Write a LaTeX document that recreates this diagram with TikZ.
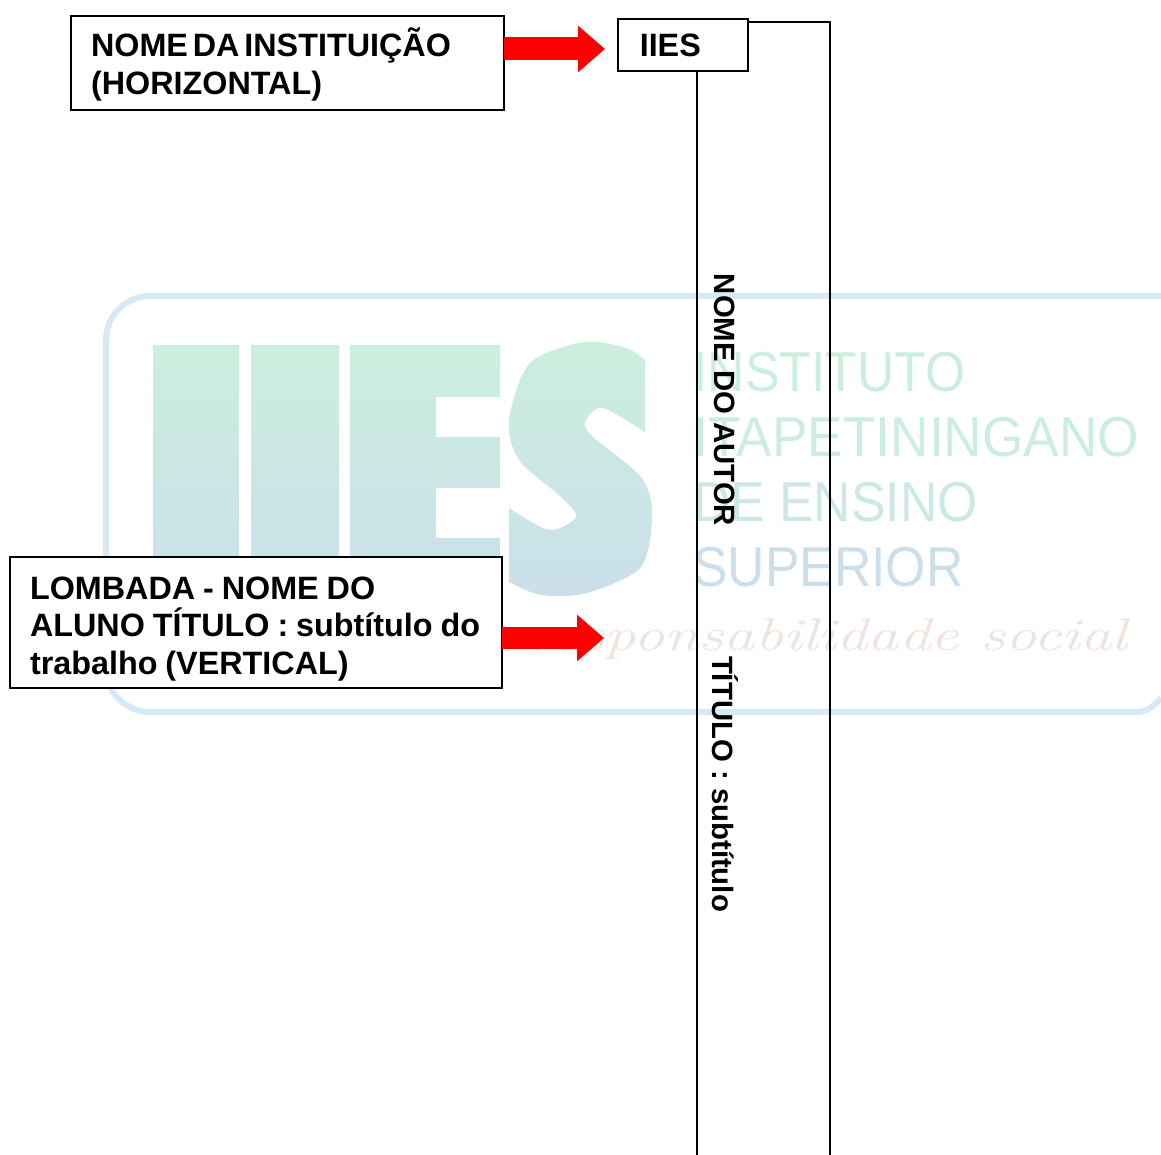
\documentclass[tikz,border=0pt]{standalone}
\usepackage{fontspec}
\usepackage{xcolor}
\usepackage{tikz}
\usetikzlibrary{calc,arrows.meta}
\newfontfamily\arialfont{Liberation Sans}
\definecolor{wmline}{HTML}{D5EAF6}
\definecolor{wmtop}{HTML}{CBEFDD}
\definecolor{wmbot}{HTML}{CBDFEB}
\definecolor{wmb}{HTML}{CCEDE1}
\definecolor{wmc}{HTML}{CCE8E6}
\definecolor{wmscript}{HTML}{EFE3DC}
\definecolor{arrowred}{HTML}{FF0000}
\tikzset{
  label box/.style={draw=black, fill=white, line width=1.1pt, inner xsep=0.4cm, inner ysep=0pt,
    outer sep=0pt, align=left, font=\arialfont\bfseries\fontsize{18.4}{21.3}\selectfont,
    execute at begin node={\spaceskip=0.15em\relax}},
  wide words/.style={execute at begin node={\spaceskip=0.245em\relax}},
  spine/.style={draw=black, line width=1.25pt},
  spine text/.style={rotate=-90, inner sep=0pt, font=\arialfont\bfseries\fontsize{16.7}{19}\selectfont},
  redarrow/.style={draw=arrowred, line width=0.46cm, -{Triangle[length=0.54cm,width=0.9cm,fill=arrowred]}},
  wmborder/.style={draw=wmline, line width=0.12cm},
  wmword/.style={anchor=base west, inner sep=0pt, xscale=0.92, font=\arialfont\fontsize{32}{32}\selectfont}
}

\begin{document}
\begin{tikzpicture}[x=0.02cm,y=-0.02cm]
  \useasboundingbox (0,0) rectangle (1161,1155);

  \draw[wmborder, rounded corners=0.88cm] (1161,296) -- (106,296) -- (106,712) -- (1136,712);
  \draw[wmborder] (1136,712) .. controls (1147,712) and (1154,706) .. (1161,698);

  \shade[top color=wmtop, bottom color=wmbot]
    (153,345) rectangle (239,595)
    (251,345) rectangle (339,595)
    (350,345) -- (500,345) -- (500,397) -- (436,397) -- (436,437) -- (500,437) -- (500,488)
      -- (436,488) -- (436,538) -- (500,538) -- (500,595) -- (350,595) -- cycle
    plot[smooth] coordinates {(645,360) (626,348) (584,342) (530,363) (509,420) (519,460)
      (561,497) (576,517) (549,530) (509,508)}
    -- (509,582)
    -- plot[smooth] coordinates {(509,582) (541,595) (587,593) (641,567) (652,513) (641,477)
      (591,435) (586,420) (603,408) (645,432)}
    -- cycle;

  \node[wmword, text=wmtop] (wmInst) at (693,392) {INSTITUTO};
  \node[wmword, text=wmb, xscale=1.03] (wmItap) at (693,457) {ITAPETININGANO};
  \node[wmword, text=wmc] (wmEns) at (693,522) {DE ENSINO};
  \node[wmword, text=wmbot] (wmSup) at (693,587) {SUPERIOR};
  \node[anchor=base east, inner sep=0pt, text=wmscript, xscale=1.37, font=\itshape\fontsize{26}{26}\selectfont]
    (wmScript) at (1128,651) {responsabilidade social};

  \coordinate (spineTop) at (830,22);
  \coordinate (spineEnd) at (830,1155);
  \coordinate (leftEnd) at (697,1155);
  \coordinate (tipTop) at (605,49);
  \coordinate (tipLow) at (604,638);

  \node[label box, text width=7.86cm, minimum height=1.88cm] (instBox) at (287.5,63)
    {\rule{0pt}{18pt}NOME DA INSTITUI\c{C}\~AO\\(HORIZONTAL)};
  \node[label box, text width=1.8cm, minimum height=1.04cm] (iiesBox) at (683,45) {\hspace{1pt}IIES};
  \node[label box, wide words, text width=9.04cm, minimum height=2.62cm] (lombBox) at (256,622.5)
    {\rule{0pt}{20pt}LOMBADA - NOME DO\\ALUNO T\'ITULO : subt\'itulo do\\trabalho (VERTICAL)};

  \draw[redarrow] (instBox.east |- tipTop) -- (tipTop);
  \draw[redarrow] (lombBox.east |- tipLow) -- (tipLow);

  \draw[spine] (iiesBox.east |- spineTop) -- (spineTop) -- (spineEnd);
  \draw[spine] (iiesBox.south -| leftEnd) -- (leftEnd);

  \node[spine text] (autorText) at (725,400) {NOME DO AUTOR};
  \node[spine text] (tituloText) at (725,784) {T\'ITULO : subt\'itulo};
\end{tikzpicture}
\end{document}
